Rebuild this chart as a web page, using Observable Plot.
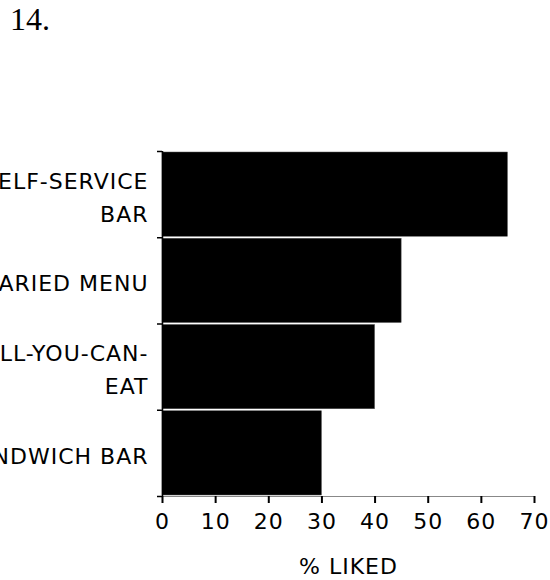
<!DOCTYPE html>
<html>
<head>
<meta charset="utf-8">
<script src="https://cdn.jsdelivr.net/npm/d3@7"></script>
<script src="https://cdn.jsdelivr.net/npm/@observablehq/plot@0.6"></script>
<style>
  html, body { margin: 0; padding: 0; background: #fff; }
  body { width: 550px; height: 580px; overflow: hidden; }
  #title { height: 45px; box-sizing: border-box; padding-left: 10px; font-family: "Liberation Serif", "Times New Roman", serif; font-size: 32px; line-height: 38px; color: #000; }
  #chart svg { display: block; }
</style>
</head>
<body>
<div id="title">14.</div>
<div id="chart"></div>
<script>
const categories = ["SELF-SERVICE\nBAR", "VARIED MENU", "ALL-YOU-CAN-\nEAT", "SANDWICH BAR"];
const liked = [65, 45, 40, 30];
const xTicks = [0, 10, 20, 30, 40, 50, 60, 70];
const bandEdges = [0, 1, 2, 3, 4];
const xLabel = "% LIKED";

const rows = categories.map((c, i) => ({category: c, value: liked[i], i}));

const chart = Plot.plot({
  width: 550,
  height: 535,
  marginTop: 106,
  marginBottom: 84,
  marginLeft: 162,
  marginRight: 16,
  style: {fontFamily: "'DejaVu Sans', sans-serif", fontSize: "22px", letterSpacing: "1px", color: "#000", background: "#fff"},
  x: {domain: [0, 70]},
  y: {domain: [0, 4], reverse: true, axis: null},
  marks: [
    Plot.rect(rows, {x1: 0, x2: "value", y1: d => d.i, y2: d => d.i + 1, fill: "#000", stroke: "#555", strokeWidth: 0.5, insetTop: 1, insetBottom: 1}),
    Plot.ruleY([4], {stroke: "#888", strokeWidth: 1, insetLeft: -5}),
    Plot.ruleX([0], {y1: 0, y2: 4, stroke: "#000", strokeWidth: 1.5}),
    Plot.axisY({ticks: bandEdges, tickFormat: () => "", tickSize: 5, strokeWidth: 1.5, label: null}),
    Plot.axisX({ticks: xTicks, tickSize: 7, tickPadding: 10, strokeWidth: 2, label: xLabel, labelAnchor: "center", labelArrow: "none", labelOffset: 77}),
    Plot.text(rows, {x: 0, y: d => d.i + 0.5, text: "category", textAnchor: "end", dx: -14, lineHeight: 1.5, fill: "#000"})
  ]
});
document.getElementById("chart").appendChild(chart);
</script>
</body>
</html>
